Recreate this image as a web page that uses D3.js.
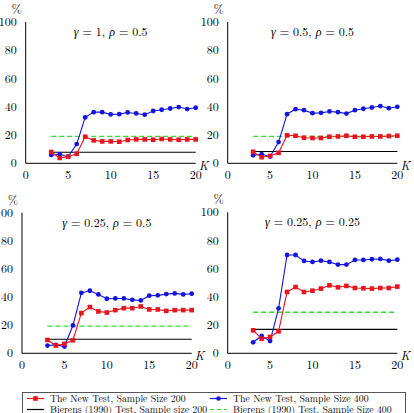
<!DOCTYPE html>
<html>
<head>
<meta charset="utf-8">
<script src="https://cdn.jsdelivr.net/npm/d3@7"></script>
<style>
  body { margin: 0; background: #fff; }
</style>
</head>
<body>
<svg id="chart" width="414" height="413"></svg>
<script>
// K values shared by all panels
const K = [3, 4, 5, 6, 7, 8, 9, 10, 11, 12, 13, 14, 15, 16, 17, 18, 19, 20]
const xTicks = [0, 5, 10, 15, 20]
const yTicks = [0, 20, 40, 60, 80, 100]

// panel titles
const gammas = ["1", "0.5", "0.25", "0.25"]
const rhos = ["0.5", "0.5", "0.5", "0.25"]

// new test, sample size 200 (red squares)
const new200 = [
  [8.0, 3.8, 4.7, 6.8, 18.8, 16.2, 15.5, 15.5, 15.3, 16.5, 16.9, 16.9, 16.7, 17.2, 16.9, 16.7, 16.9, 16.9],
  [8.1, 4.3, 5.2, 7.4, 19.8, 19.5, 18.1, 17.9, 17.9, 18.8, 19.0, 19.5, 18.8, 18.8, 19.0, 19.0, 19.3, 19.5],
  [9.5, 5.5, 6.7, 9.3, 28.6, 32.9, 29.8, 29.0, 30.7, 32.1, 32.1, 33.3, 31.2, 31.2, 30.2, 30.7, 30.7, 30.7],
  [16.3, 10.4, 11.6, 15.6, 43.5, 47.0, 43.5, 44.4, 45.9, 48.2, 46.8, 47.8, 46.3, 46.1, 45.9, 46.3, 46.3, 47.3]
]
// new test, sample size 400 (blue circles)
const new400 = [
  [5.9, 6.4, 4.7, 13.6, 32.5, 36.2, 36.2, 34.6, 34.8, 36.0, 35.3, 34.4, 37.0, 37.9, 38.8, 39.8, 38.4, 39.3],
  [5.7, 6.4, 4.8, 15.0, 34.8, 38.3, 37.6, 35.5, 35.7, 36.7, 36.2, 35.2, 37.6, 38.6, 39.5, 40.5, 39.0, 40.0],
  [5.5, 6.0, 4.8, 19.8, 43.0, 44.5, 41.9, 38.8, 39.0, 39.0, 38.0, 37.6, 41.0, 41.2, 42.1, 42.6, 41.9, 42.4],
  [7.8, 12.3, 8.7, 31.9, 69.7, 69.7, 65.5, 64.8, 65.7, 64.8, 62.9, 62.9, 66.2, 66.2, 66.7, 66.9, 65.7, 66.4]
]
// Bierens (1990) test, constant over K
const bierens200 = [7.8, 8.3, 10.0, 17.0]
const bierens400 = [19.1, 19.0, 19.3, 29.1]

// panel placement
const panels = [
  {x0: 25.7, x1: 195.7, y0: 163.3, y1: 22},
  {x0: 227.7, x1: 397.3, y0: 163.3, y1: 22},
  {x0: 22, x1: 191.7, y0: 353.3, y1: 212.7},
  {x0: 227.7, x1: 397.3, y0: 353.3, y1: 212.3}
]

const font = "'Latin Modern Roman', 'CMU Serif', 'Liberation Serif', serif"
const red = "#e8141e", blue = "#1414e0", green = "#33dd33"
const svg = d3.select("#chart")

function label(sel, size) {
  return sel.style("font-family", font).style("font-size", size + "px").attr("fill", "#000")
}

panels.forEach(function(p, i) {
  const x = d3.scaleLinear().domain([0, 20]).range([p.x0, p.x1])
  const y = d3.scaleLinear().domain([0, 100]).range([p.y0, p.y1])
  const g = svg.append("g")

  // axes: plain L shape, no tick marks
  g.append("line").attr("x1", x(0)).attr("x2", x(20)).attr("y1", y(0)).attr("y2", y(0))
    .attr("stroke", "#000").attr("stroke-width", 1)
  g.append("line").attr("x1", x(0)).attr("x2", x(0)).attr("y1", y(0)).attr("y2", y(100))
    .attr("stroke", "#000").attr("stroke-width", 1)

  label(g.selectAll(".xt").data(xTicks).enter().append("text"), 12)
    .attr("x", d => x(d)).attr("y", y(0) + 16)
    .attr("text-anchor", "middle").text(d => d)
  label(g.selectAll(".yt").data(yTicks).enter().append("text"), 12)
    .attr("x", x(0) - 9).attr("y", d => y(d) + 4)
    .attr("text-anchor", "end").text(d => d)

  label(g.append("text"), 12).attr("x", x(0) - 9).attr("y", y(100) - 9)
    .attr("text-anchor", "middle").text("%")
  label(g.append("text"), 12).attr("x", x(20) + 8).attr("y", y(0) + 7)
    .attr("text-anchor", "middle").style("font-style", "italic").text("K")

  const title = label(g.append("text"), 12).attr("x", x(10)).attr("y", y(100) + 14)
    .attr("text-anchor", "middle")
  title.append("tspan").style("font-style", "italic").text("γ")
  title.append("tspan").text(" = " + gammas[i] + ", ")
  title.append("tspan").style("font-style", "italic").text("ρ")
  title.append("tspan").text(" = " + rhos[i])

  // Bierens reference lines
  g.append("line").attr("x1", x(3)).attr("x2", x(20))
    .attr("y1", y(bierens200[i])).attr("y2", y(bierens200[i]))
    .attr("stroke", "#000").attr("stroke-width", 1.1)
  g.append("line").attr("x1", x(3)).attr("x2", x(20))
    .attr("y1", y(bierens400[i])).attr("y2", y(bierens400[i]))
    .attr("stroke", green).attr("stroke-width", 1.3).attr("stroke-dasharray", "5,3")

  const line = d3.line().x((d, j) => x(K[j])).y(d => y(d))

  g.append("path").datum(new400[i]).attr("d", line)
    .attr("fill", "none").attr("stroke", blue).attr("stroke-width", 1.1)
  g.selectAll(".bc").data(new400[i]).enter().append("circle")
    .attr("cx", (d, j) => x(K[j])).attr("cy", d => y(d)).attr("r", 2.4)
    .attr("fill", blue)

  g.append("path").datum(new200[i]).attr("d", line)
    .attr("fill", "none").attr("stroke", red).attr("stroke-width", 1.1)
  g.selectAll(".rs").data(new200[i]).enter().append("rect")
    .attr("x", (d, j) => x(K[j]) - 2.3).attr("y", d => y(d) - 2.3)
    .attr("width", 4.6).attr("height", 4.6).attr("fill", red)
})

// legend
const leg = svg.append("g")
leg.append("rect").attr("x", 22.5).attr("y", 392.5).attr("width", 383).attr("height", 30)
  .attr("fill", "#fff").attr("stroke", "#555").attr("stroke-width", 1)

const legItems = [
  {label: "The New Test, Sample Size 200", color: red, mark: "square", dash: null, col: 0, row: 0},
  {label: "The New Test, Sample Size 400", color: blue, mark: "circle", dash: null, col: 1, row: 0},
  {label: "Bierens (1990) Test, Sample size 200", color: "#000", mark: null, dash: null, col: 0, row: 1},
  {label: "Bierens (1990) Test, Sample Size 400", color: green, mark: null, dash: "4,3", col: 1, row: 1}
]
const colX = [27, 210], rowY = [398.5, 409.5]
legItems.forEach(function(d) {
  const lx = colX[d.col], ly = rowY[d.row]
  leg.append("line").attr("x1", lx).attr("x2", lx + 17).attr("y1", ly).attr("y2", ly)
    .attr("stroke", d.color).attr("stroke-width", 1.2).attr("stroke-dasharray", d.dash)
  if (d.mark == "square") {
    leg.append("rect").attr("x", lx + 6.2).attr("y", ly - 2.3).attr("width", 4.6).attr("height", 4.6).attr("fill", d.color)
  } else if (d.mark == "circle") {
    leg.append("circle").attr("cx", lx + 8.5).attr("cy", ly).attr("r", 2.3).attr("fill", d.color)
  }
  label(leg.append("text"), 9.8).attr("x", lx + 23).attr("y", ly + 3.5).text(d.label)
})
</script>
</body>
</html>
